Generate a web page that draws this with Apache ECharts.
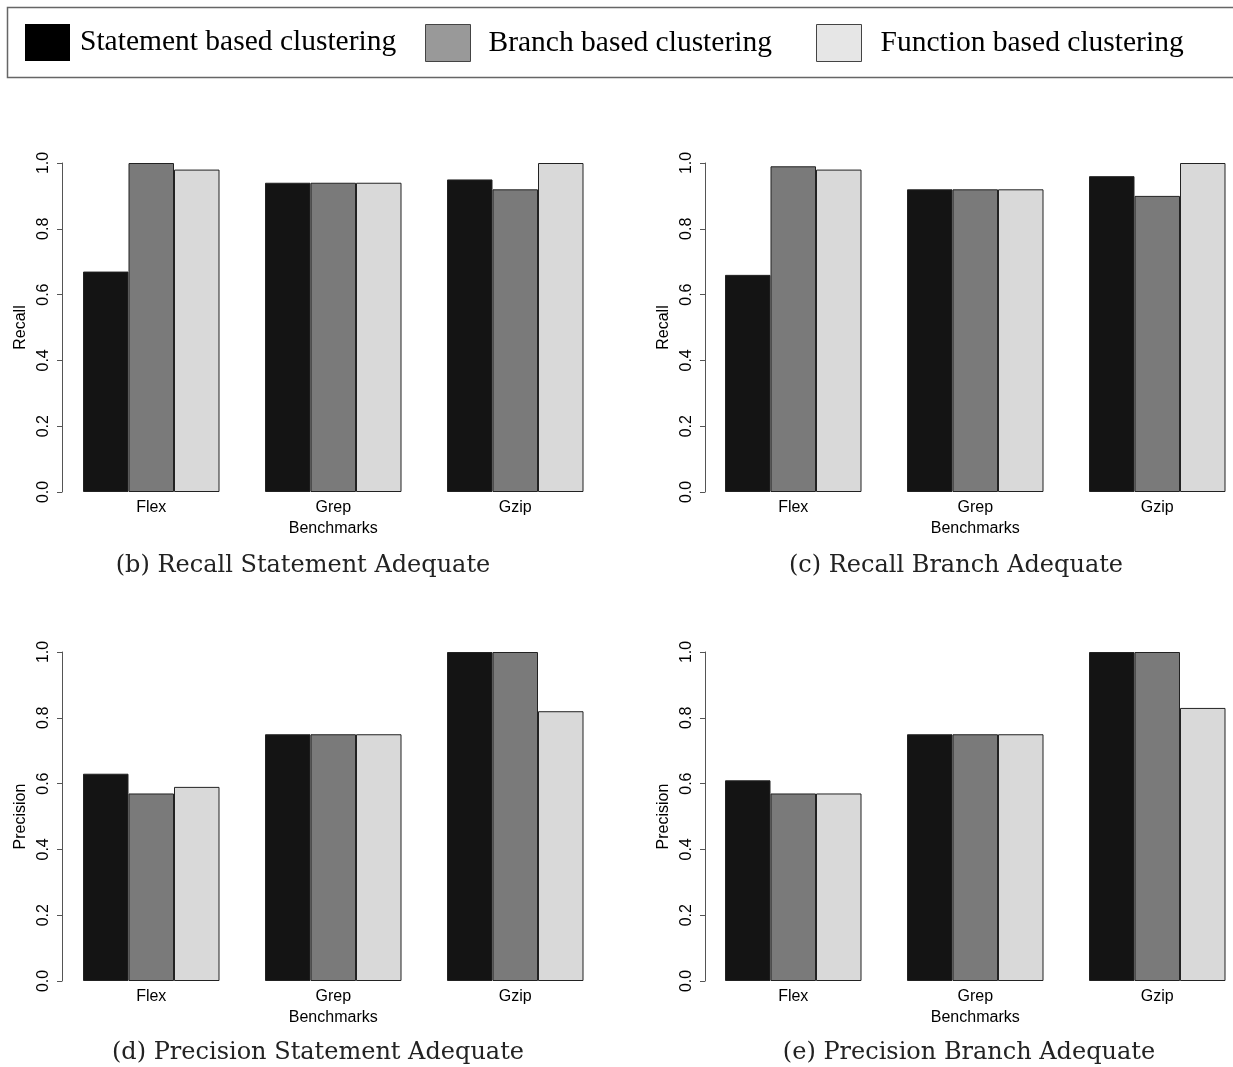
<!DOCTYPE html>
<html><head><meta charset="utf-8">
<script src="https://cdn.jsdelivr.net/npm/echarts@6/dist/echarts.min.js"></script>
<style>html,body{margin:0;padding:0;background:#fff}#c{width:1233px;height:1067px}</style>
</head><body><div id="c"></div>
<script>
// ---- data ----
const categories = ['Flex', 'Grep', 'Gzip'];
const seriesNames = ['Statement based clustering', 'Branch based clustering', 'Function based clustering'];
const yAxisNames = ['Recall', 'Recall', 'Precision', 'Precision'];
const xAxisName = 'Benchmarks';
const captions = ['(b) Recall Statement Adequate', '(c) Recall Branch Adequate',
                  '(d) Precision Statement Adequate', '(e) Precision Branch Adequate'];
const yTickValues = [0, 0.2, 0.4, 0.6, 0.8, 1.0];

// (b) Recall, statement adequate
const recallStmt_statement = [0.67, 0.94, 0.95];
const recallStmt_branch    = [1.00, 0.94, 0.92];
const recallStmt_function  = [0.98, 0.94, 1.00];
// (c) Recall, branch adequate
const recallBranch_statement = [0.66, 0.92, 0.96];
const recallBranch_branch    = [0.99, 0.92, 0.90];
const recallBranch_function  = [0.98, 0.92, 1.00];
// (d) Precision, statement adequate
const precStmt_statement = [0.63, 0.75, 1.00];
const precStmt_branch    = [0.57, 0.75, 1.00];
const precStmt_function  = [0.59, 0.75, 0.82];
// (e) Precision, branch adequate
const precBranch_statement = [0.61, 0.75, 1.00];
const precBranch_branch    = [0.57, 0.75, 1.00];
const precBranch_function  = [0.57, 0.75, 0.83];

const panelData = [
  [recallStmt_statement, recallStmt_branch, recallStmt_function],
  [recallBranch_statement, recallBranch_branch, recallBranch_function],
  [precStmt_statement, precStmt_branch, precStmt_function],
  [precBranch_statement, precBranch_branch, precBranch_function]
];

// ---- layout / style ----
const barColors = ['#141414', '#7a7a7a', '#d9d9d9'];
const legendColors = ['#000000', '#999999', '#e6e6e6'];
const legendBorders = ['#000000', '#444444', '#444444'];
const legendLefts = [25, 425, 816];
const legendTextPad = [5, 13, 14];
const BAND = 182; // px per category band
const panels = [
  {left: 60.25, top: 163, width: 546, yOff: -1.75, capX: 303, capY: 566, namePad: 0},
  {left: 702.25, top: 163, width: 530, yOff: -2.75, capX: 956, capY: 566, namePad: 16},
  {left: 60.25, top: 652, width: 546, yOff: -1.75, capX: 318, capY: 1053, namePad: 0},
  {left: 702.25, top: 652, width: 530, yOff: -2.75, capX: 969, capY: 1053, namePad: 16}
];
const sans = '"Liberation Sans", Arial, Helvetica, sans-serif';

const chart = echarts.init(document.getElementById('c'), null, {renderer: 'canvas'});

const grid = panels.map(p => ({left: p.left, top: p.top, width: p.width, height: 329, containLabel: false}));
const xAxis = panels.map((p, i) => ({
  gridIndex: i, type: 'value', min: 0, max: p.width / BAND, interval: 1,
  axisLine: {show: false}, axisTick: {show: false}, splitLine: {show: false},
  axisLabel: {fontSize: 16, color: '#000', margin: 8, fontFamily: sans,
              customValues: categories.map((c, k) => k + 0.5),
              formatter: v => categories[Math.round(v - 0.5)] || ''},
  name: xAxisName, nameLocation: 'middle', nameGap: 29,
  nameTextStyle: {fontSize: 16, color: '#000', fontFamily: sans, padding: [0, 0, 0, p.namePad]}
}));
const yAxis = panels.map((p, i) => ({
  gridIndex: i, type: 'value', min: yTickValues[0], max: yTickValues[yTickValues.length - 1],
  interval: yTickValues[1] - yTickValues[0], offset: p.yOff,
  axisLine: {show: true, lineStyle: {color: '#555', width: 1}},
  axisTick: {show: true, length: 5, lineStyle: {color: '#555', width: 1}},
  splitLine: {show: false},
  axisLabel: {rotate: 90, margin: 10, fontSize: 16, color: '#000', fontFamily: sans,
              formatter: v => v.toFixed(1)},
  name: yAxisNames[i], nameLocation: 'middle', nameGap: 33,
  nameTextStyle: {fontSize: 16, color: '#000', fontFamily: sans}
}));

const series = [];
panelData.forEach((pd, i) => {
  pd.forEach((vals, j) => {
    series.push({
      type: 'bar', name: seriesNames[j], xAxisIndex: i, yAxisIndex: i,
      data: vals.map((v, k) => [k + 0.5, v]), barWidth: 45.5, barGap: '0%', silent: true,
      itemStyle: {color: barColors[j], borderColor: '#222', borderWidth: 1}
    });
  });
});

const legend = seriesNames.map((n, j) => ({
  data: [{name: n, icon: 'rect',
          itemStyle: {color: legendColors[j], borderColor: legendBorders[j], borderWidth: j === 0 ? 0 : 1}}],
  left: legendLefts[j], top: 24, padding: 0,
  itemWidth: 45, itemHeight: 37, selectedMode: false,
  textStyle: {fontFamily: '"Liberation Serif", "Times New Roman", serif', fontSize: 29.5, color: '#000',
              padding: [0, 0, 0, legendTextPad[j]]}
}));

const graphic = [
  {type: 'rect', z: -1, shape: {x: 7.5, y: 7.5, width: 1300, height: 70},
   style: {fill: null, stroke: '#666', lineWidth: 1.5}}
].concat(panels.map((p, i) => ({
  type: 'text', x: p.capX, y: p.capY,
  style: {text: captions[i], font: '24px "DejaVu Serif", serif', fontSize: 24, fontFamily: '"DejaVu Serif", serif',
          fill: '#222', align: 'center', textAlign: 'center', verticalAlign: 'middle', textVerticalAlign: 'middle'}
})));

chart.setOption({
  animation: false,
  backgroundColor: '#fff',
  grid, xAxis, yAxis, series, legend, graphic
});
</script></body></html>
